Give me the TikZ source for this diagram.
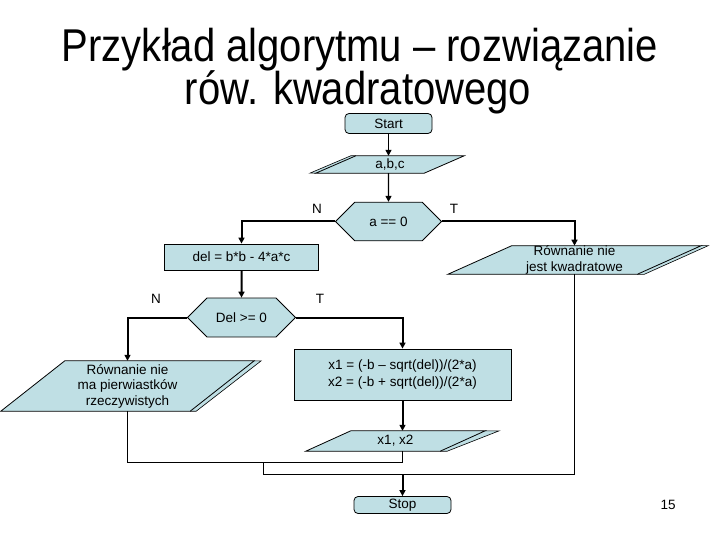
\documentclass[tikz,border=0pt]{standalone}
\usepackage{fontspec}
\setmainfont{Liberation Sans}
\usetikzlibrary{arrows.meta,shapes.misc}
\pgfdeclarelayer{tlo}
\pgfsetlayers{tlo,main}
\definecolor{blok}{HTML}{BFDFE4}
\newcommand{\maly}{\fontsize{13.5}{15.5}\selectfont}
% rownoleglobok wokol wezla: #1 wezel, #2 przesuniecie boku
\newcommand{\rownol}[2]{%
  \begin{pgfonlayer}{tlo}
    \draw[line width=0.8pt, fill=blok]
      ([xshift=#2*0.5pt]#1.north west) -- ([xshift=#2*0.5pt]#1.north east)
      -- ([xshift=-#2*0.5pt]#1.south east) -- ([xshift=-#2*0.5pt]#1.south west) -- cycle;
  \end{pgfonlayer}}
\tikzset{
  term/.style={rectangle, rounded corners=4pt, draw, line width=0.8pt, fill=blok,
               font=\maly, inner sep=0pt, minimum width=87pt, minimum height=20pt},
  proc/.style={rectangle, draw, line width=0.8pt, fill=blok, align=center,
               font=\maly, inner sep=0pt},
  decyzja/.style={chamfered rectangle, chamfered rectangle xsep=12pt, chamfered rectangle ysep=14.5pt,
               draw, line width=0.8pt, fill=blok, font=\maly, inner sep=0pt,
               minimum width=106pt, minimum height=29pt},
  dane/.style={rectangle, align=center, font=\maly, inner sep=0pt},
  bok/.style={draw, line width=0.6pt, fill=blok},
  gruba/.style={-{Triangle[length=6pt,width=6pt]}, line width=2pt},
  cienka/.style={line width=1pt},
  etyk/.style={font=\maly},
}

\begin{document}
\begin{tikzpicture}[x=1pt, y=-1pt]
  \useasboundingbox (0,0) rectangle (720,540);
  % tytul
  \node[font=\fontsize{46}{46}\selectfont, anchor=base] (tyt1) at (360,62)
    {\scalebox{0.87}[1]{Przykład algorytmu – rozwiązanie}};
  \node[font=\fontsize{46}{46}\selectfont, anchor=base] (tyt2) at (358,105)
    {\scalebox{0.87}[1]{rów. kwadratowego}};

  % bloki
  \node[term] (start) at (388.5,123.5) {Start};
  \node[dane, minimum width=108pt, minimum height=17pt] (abc) at (390,164.5) {a,b,c};
  \node[decyzja] (a0) at (388.5,221.5) {a == 0};
  \node[proc, minimum width=154pt, minimum height=26pt] (del) at (241.5,257) {del = b*b - 4*a*c};
  \node[dane, minimum width=189pt, minimum height=28pt] (niekw) at (574.5,260)
    {Równanie nie\\jest kwadratowe};
  \node[decyzja, minimum width=108pt] (d0) at (241.5,317.5) {Del >= 0};
  \node[dane, minimum width=189pt, minimum height=50pt] (brak) at (127.5,386)
    {Równanie nie\\ma pierwiastków\\rzeczywistych};
  \node[proc, minimum width=217pt, minimum height=51pt, font=\fontsize{13.5}{17}\selectfont] (wyn) at (402.5,374.5)
    {x1 = (-b – sqrt(del))/(2*a)\\x2 = (-b + sqrt(del))/(2*a)};
  \node[dane, minimum width=134pt, minimum height=20pt] (x12) at (395.5,441) {x1, x2};
  \node[term, minimum width=97pt, minimum height=17pt] (stop) at (402.5,505) {Stop};

  % boki 3D
  \begin{pgfonlayer}{tlo}
    \draw[bok] ([xshift=20pt]abc.north west) -- ++(-5,0) -- ([xshift=-26pt]abc.south west) -- ++(6,0);
    \draw[bok] ([xshift=32pt]niekw.north east) -- ++(7,0) -- ([xshift=-25pt]niekw.south east) -- ++(-7,0);
    \draw[bok] ([xshift=32pt]brak.north east) -- ++(7,0) -- ([xshift=-26pt]brak.south east) -- ++(-6,0);
    \draw[bok] ([xshift=22.5pt]x12.north east) -- ++(14,0) -- ([xshift=-15.5pt]x12.south east) -- ++(-7,0);
  \end{pgfonlayer}
  \rownol{abc}{40}
  \rownol{niekw}{64}
  \rownol{brak}{64}
  \rownol{x12}{45}

  % etykiety
  \node[etyk] (n1) at (317,209) {N};
  \node[etyk] (t1) at (454,209) {T};
  \node[etyk] (n2) at (156,299) {N};
  \node[etyk] (t2) at (320,299) {T};
  \node[etyk] (nr) at (668,505) {15};

  % polaczenia
  \coordinate (z1) at (263,462);
  \coordinate (z2) at (263,474);
  \draw[gruba, line width=1.3pt] (start) -- (start |- abc.north);
  \draw[gruba, line width=1.3pt] (start |- abc.south) -- (a0);
  \draw[gruba] (a0.west) -| (del.north);
  \draw[gruba] (a0.east) -| (niekw.north);
  \draw[gruba] (del) -- (d0);
  \draw[gruba] (d0.west) -| (brak.north);
  \draw[gruba] (d0.east) -| (wyn.north);
  \draw[gruba] (wyn.south) -- (wyn.south |- x12.north);
  \draw[cienka] (brak.south) -- ++(0,51) -| (wyn.south |- x12.south);
  \draw[cienka] (z1) -- (z2) -| (niekw.south);
  \draw[gruba] (wyn.south |- z2) -- (stop);
\end{tikzpicture}
\end{document}
